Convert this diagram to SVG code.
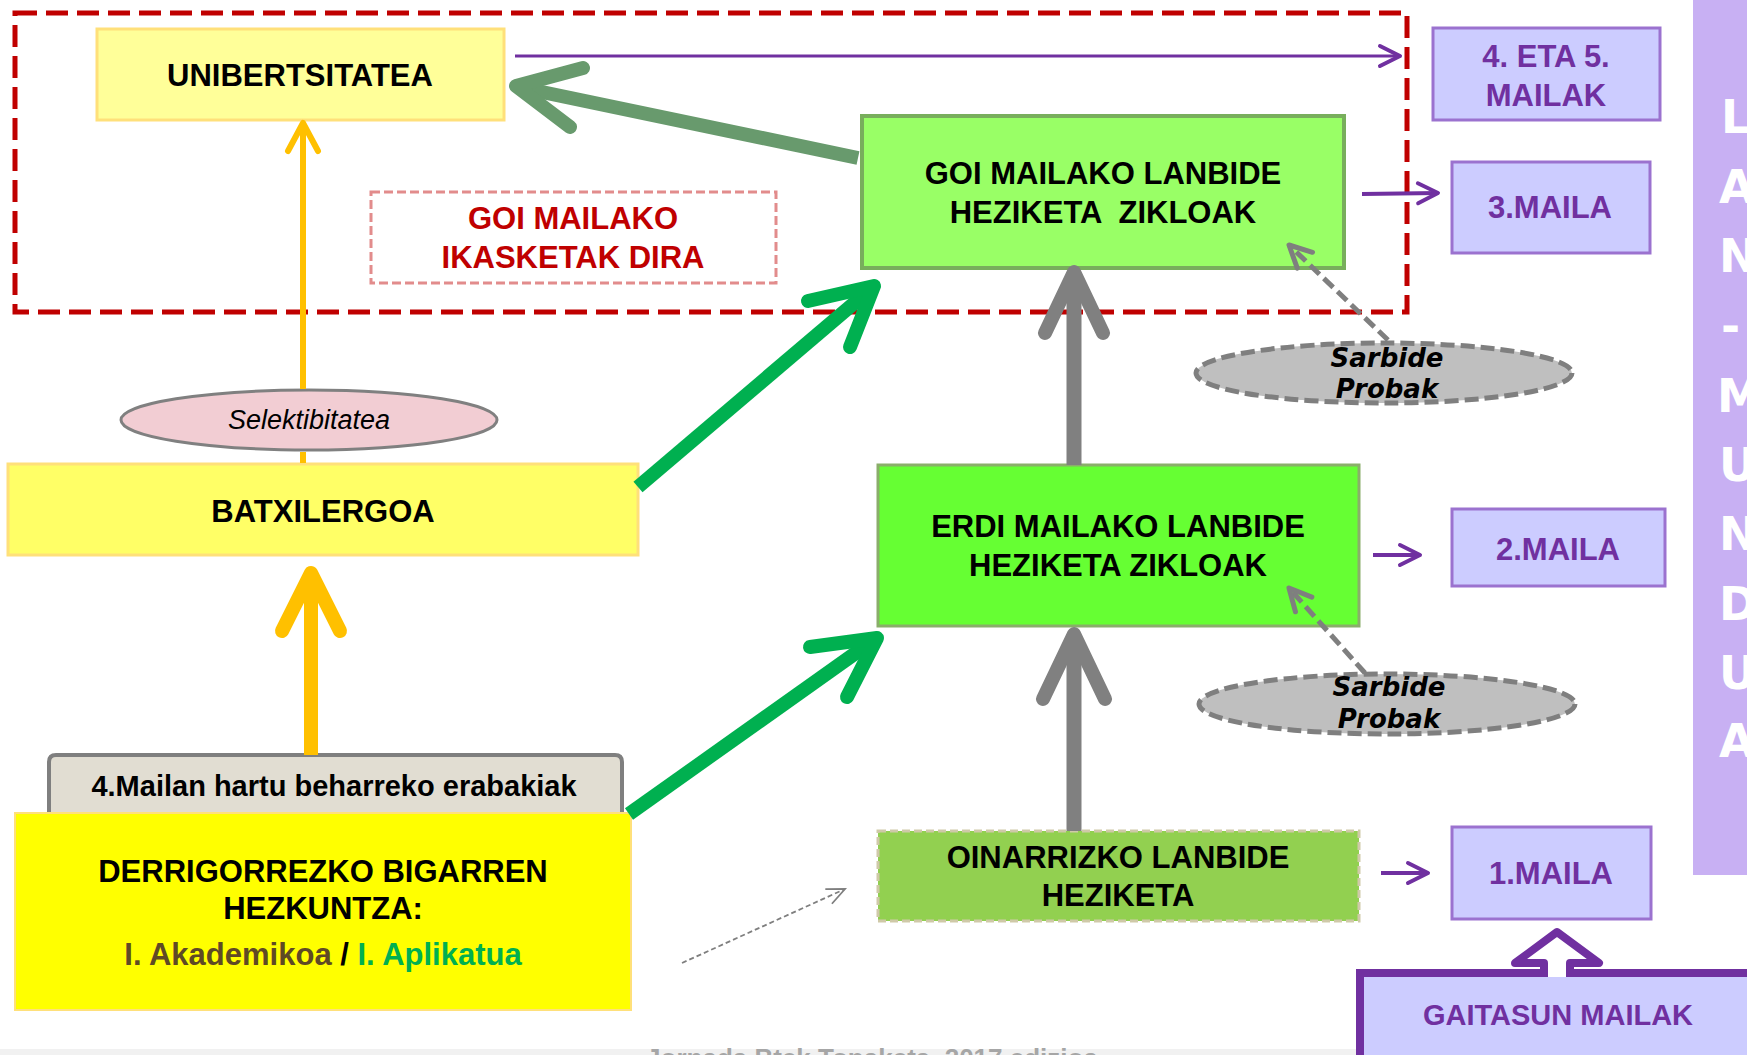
<svg xmlns="http://www.w3.org/2000/svg" width="1747" height="1055" viewBox="0 0 1747 1055">
<defs>
<style>
.t{font-family:"Liberation Sans",Arial,sans-serif;font-weight:bold;text-anchor:middle}
.box{font-size:31px;fill:#000}
.pu{fill:#7030A0}
.mb{fill:#CCCCFF;stroke:#9B72CF;stroke-width:3}
.sb{font-family:"DejaVu Sans",Verdana,sans-serif;font-weight:bold;font-style:italic;font-size:26px;text-anchor:middle;fill:#000}
.sp{fill:#BFBFBF;stroke:#7F7F7F;stroke-width:5;stroke-dasharray:14 6}
.thick{fill:none;stroke-linecap:round;stroke-linejoin:round}
.col{font-family:"DejaVu Sans",Verdana,sans-serif;font-weight:bold;font-size:46px;fill:#FFFFFF}
</style>
<marker id="pa" markerUnits="userSpaceOnUse" markerWidth="40" markerHeight="40" viewBox="-30 -20 40 40" refX="0" refY="0" orient="auto" overflow="visible">
<path d="M -20 -10 L 0 0 L -20 10" fill="none" stroke="#7030A0" stroke-width="4" stroke-linecap="round" stroke-linejoin="round"/>
</marker>
<marker id="ga" markerUnits="userSpaceOnUse" markerWidth="40" markerHeight="40" viewBox="-30 -20 40 40" refX="0" refY="0" orient="auto" overflow="visible">
<path d="M -22 -11 L 0 0 L -22 11" fill="none" stroke="#7F7F7F" stroke-width="5" stroke-linecap="round" stroke-linejoin="round"/>
</marker>
<marker id="gs" markerUnits="userSpaceOnUse" markerWidth="30" markerHeight="30" viewBox="-25 -15 30 30" refX="0" refY="0" orient="auto" overflow="visible">
<path d="M -18 -8 L 0 0 L -18 8" fill="none" stroke="#7F7F7F" stroke-width="1.8"/>
</marker>
</defs>
<rect width="1747" height="1055" fill="#FFFFFF"/>
<rect x="0" y="1049" width="1747" height="6" fill="#F1F1F1"/>

<g id="higher-frame">
<rect x="15" y="13" width="1392" height="299" fill="none" stroke="#C00000" stroke-width="5" stroke-dasharray="22 9"/>
</g>

<g id="lan-mundua">
<rect x="1693" y="0" width="60" height="875" fill="#C8B0F3"/>
<text class="col" x="1721" y="133">L</text>
<text class="col" x="1719" y="203">A</text>
<text class="col" x="1719" y="272">N</text>
<text class="col" x="1721" y="342">-</text>
<text class="col" x="1717" y="412">M</text>
<text class="col" x="1719" y="481">U</text>
<text class="col" x="1719" y="550">N</text>
<text class="col" x="1719" y="620">D</text>
<text class="col" x="1719" y="689">U</text>
<text class="col" x="1719" y="757">A</text>
</g>

<g id="unibertsitatea">
<rect x="97" y="29" width="407" height="91" fill="#FFFF99" stroke="#FFE07A" stroke-width="3"/>
<text class="t box" x="300" y="86">UNIBERTSITATEA</text>
</g>

<g id="goi-mailako-ikasketak">
<rect x="371" y="192" width="405" height="91" fill="#FFFFFF" stroke="#E28C8C" stroke-width="3" stroke-dasharray="9 4"/>
<text class="t" x="573" y="229" font-size="31" fill="#C00000">GOI MAILAKO</text>
<text class="t" x="573" y="268" font-size="31" fill="#C00000">IKASKETAK DIRA</text>
</g>

<g id="goi-zikloak">
<rect x="862" y="116" width="482" height="152" fill="#99FF66" stroke="#78AE5C" stroke-width="4"/>
<text class="t box" x="1103" y="184">GOI MAILAKO LANBIDE</text>
<text class="t box" x="1103" y="223" xml:space="preserve">HEZIKETA  ZIKLOAK</text>
</g>

<g id="maila-45">
<rect class="mb" x="1433" y="28" width="227" height="92"/>
<text class="t pu" x="1546" y="67" font-size="31">4. ETA 5.</text>
<text class="t pu" x="1546" y="106" font-size="31">MAILAK</text>
</g>

<g id="maila-3">
<rect class="mb" x="1452" y="162" width="198" height="91"/>
<text class="t pu" x="1550" y="218" font-size="31">3.MAILA</text>
</g>

<g id="selektibitatea">
<ellipse cx="309" cy="420" rx="188" ry="30" fill="#F2CDD3" stroke="#808080" stroke-width="3"/>
<text x="309" y="429" font-family="Liberation Sans, Arial, sans-serif" font-style="italic" font-size="27" text-anchor="middle" fill="#000">Selektibitatea</text>
</g>

<g id="sarbide-1">
<ellipse class="sp" cx="1384" cy="373" rx="188" ry="30"/>
<text class="sb" x="1387" y="367">Sarbide</text>
<text class="sb" x="1387" y="398">Probak</text>
</g>

<g id="batxilergoa">
<rect x="8" y="464" width="630" height="91" fill="#FFFF66" stroke="#FFE07A" stroke-width="3"/>
<text class="t box" x="323" y="522">BATXILERGOA</text>
</g>

<g id="erdi-zikloak">
<rect x="878" y="465" width="481" height="161" fill="#66FF33" stroke="#8AAE6A" stroke-width="3"/>
<text class="t box" x="1118" y="537">ERDI MAILAKO LANBIDE</text>
<text class="t box" x="1118" y="576">HEZIKETA ZIKLOAK</text>
</g>

<g id="maila-2">
<rect class="mb" x="1452" y="509" width="213" height="77"/>
<text class="t pu" x="1558" y="560" font-size="31">2.MAILA</text>
</g>

<g id="sarbide-2">
<ellipse class="sp" cx="1387" cy="704" rx="188" ry="30"/>
<text class="sb" x="1389" y="696">Sarbide</text>
<text class="sb" x="1389" y="728">Probak</text>
</g>

<g id="erabakiak">
<path d="M 49 813 L 49 762 Q 49 755 56 755 L 615 755 Q 622 755 622 762 L 622 813" fill="#E1DDD2" stroke="#7F7F7F" stroke-width="4"/>
<text class="t" x="334" y="796" font-size="29" fill="#000">4.Mailan hartu beharreko erabakiak</text>
</g>

<g id="dbh">
<rect x="15" y="813" width="616" height="197" fill="#FFFF00" stroke="#FFE07A" stroke-width="2"/>
<text class="t box" x="323" y="882">DERRIGORREZKO BIGARREN</text>
<text class="t box" x="323" y="919">HEZKUNTZA:</text>
<text class="t box" x="323" y="965"><tspan fill="#5F4A25">I. Akademikoa</tspan><tspan fill="#000"> / </tspan><tspan fill="#00B050">I. Aplikatua</tspan></text>
</g>

<g id="oinarrizko">
<rect x="878" y="831" width="481" height="90" fill="#92D050" stroke="#CFC9A8" stroke-width="3" stroke-dasharray="8 4"/>
<text class="t box" x="1118" y="868">OINARRIZKO LANBIDE</text>
<text class="t box" x="1118" y="906">HEZIKETA</text>
</g>

<g id="maila-1">
<rect class="mb" x="1452" y="827" width="199" height="92"/>
<text class="t pu" x="1551" y="884" font-size="31">1.MAILA</text>
</g>

<g id="gaitasun-mailak">
<rect x="1360" y="973" width="420" height="100" fill="#CCCCFF" stroke="#7030A0" stroke-width="8"/>
<path d="M 1544 977 L 1544 963 L 1515 963 L 1557 932 L 1599 963 L 1570 963 L 1570 977" fill="#FFFFFF" stroke="#7030A0" stroke-width="8" stroke-linejoin="round"/>
<text class="t pu" x="1558" y="1025" font-size="29">GAITASUN MAILAK</text>
</g>

<g id="connectors">
<!-- yellow thin arrow BATXILERGOA -> UNIBERTSITATEA (passes behind Selektibitatea) -->
<path class="thick" d="M 303 463 L 303 452" stroke="#FFC000" stroke-width="6" style="stroke-linecap:butt"/>
<path class="thick" d="M 303 389 L 303 124" stroke="#FFC000" stroke-width="6" style="stroke-linecap:butt"/>
<path class="thick" d="M 288 151 L 303 123 L 318 151" stroke="#FFC000" stroke-width="6"/>
<!-- purple line UNIBERTSITATEA -> 4. ETA 5. -->
<line x1="515" y1="56" x2="1400" y2="56" stroke="#7030A0" stroke-width="3" marker-end="url(#pa)"/>
<!-- green-grey arrow GOI -> UNIBERTSITATEA -->
<path class="thick" d="M 858 158 L 518 87" stroke="#689A6D" stroke-width="14" style="stroke-linecap:butt"/>
<path class="thick" d="M 583 68 L 516 86 L 570 127" stroke="#689A6D" stroke-width="14"/>
<!-- green BATX -> GOI -->
<path class="thick" d="M 638 487 L 872 288" stroke="#00B050" stroke-width="14" style="stroke-linecap:butt"/>
<path class="thick" d="M 808 301 L 874 286 L 850 347" stroke="#00B050" stroke-width="14"/>
<!-- green DBH -> ERDI -->
<path class="thick" d="M 629 814 L 874 640" stroke="#00B050" stroke-width="14" style="stroke-linecap:butt"/>
<path class="thick" d="M 810 647 L 877 638 L 847 697" stroke="#00B050" stroke-width="14"/>
<!-- grey ERDI -> GOI -->
<path class="thick" d="M 1074 465 L 1074 274" stroke="#808080" stroke-width="15" style="stroke-linecap:butt"/>
<path class="thick" d="M 1045 333 L 1074 272 L 1103 333" stroke="#808080" stroke-width="14"/>
<!-- grey OINARRIZKO -> ERDI -->
<path class="thick" d="M 1074 831 L 1074 636" stroke="#808080" stroke-width="15" style="stroke-linecap:butt"/>
<path class="thick" d="M 1043 699 L 1074 634 L 1105 699" stroke="#808080" stroke-width="14"/>
<!-- yellow big DBH -> BATX -->
<path class="thick" d="M 311 755 L 311 576" stroke="#FFC000" stroke-width="14" style="stroke-linecap:butt"/>
<path class="thick" d="M 282 631 L 311 573 L 340 631" stroke="#FFC000" stroke-width="14"/>
<!-- sarbide dashed arrows -->
<line x1="1388" y1="340" x2="1289" y2="245" stroke="#7F7F7F" stroke-width="5" stroke-dasharray="13 6" marker-end="url(#ga)"/>
<line x1="1365" y1="673" x2="1289" y2="588" stroke="#7F7F7F" stroke-width="5" stroke-dasharray="13 6" marker-end="url(#ga)"/>
<!-- thin dashed DBH -> OINARRIZKO -->
<line x1="682" y1="963" x2="845" y2="889" stroke="#7F7F7F" stroke-width="1.8" stroke-dasharray="5 3" marker-end="url(#gs)"/>
<!-- purple to levels -->
<line x1="1362" y1="194" x2="1438" y2="193" stroke="#7030A0" stroke-width="4" marker-end="url(#pa)"/>
<line x1="1373" y1="555" x2="1420" y2="555" stroke="#7030A0" stroke-width="4" marker-end="url(#pa)"/>
<line x1="1381" y1="873" x2="1428" y2="873" stroke="#7030A0" stroke-width="4" marker-end="url(#pa)"/>
</g>

<g id="footer">
<text class="t" x="872" y="1067" font-size="26" fill="#A6A6A6">Jornada Btek Topaketa, 2017 edizioa</text>
</g>
</svg>
